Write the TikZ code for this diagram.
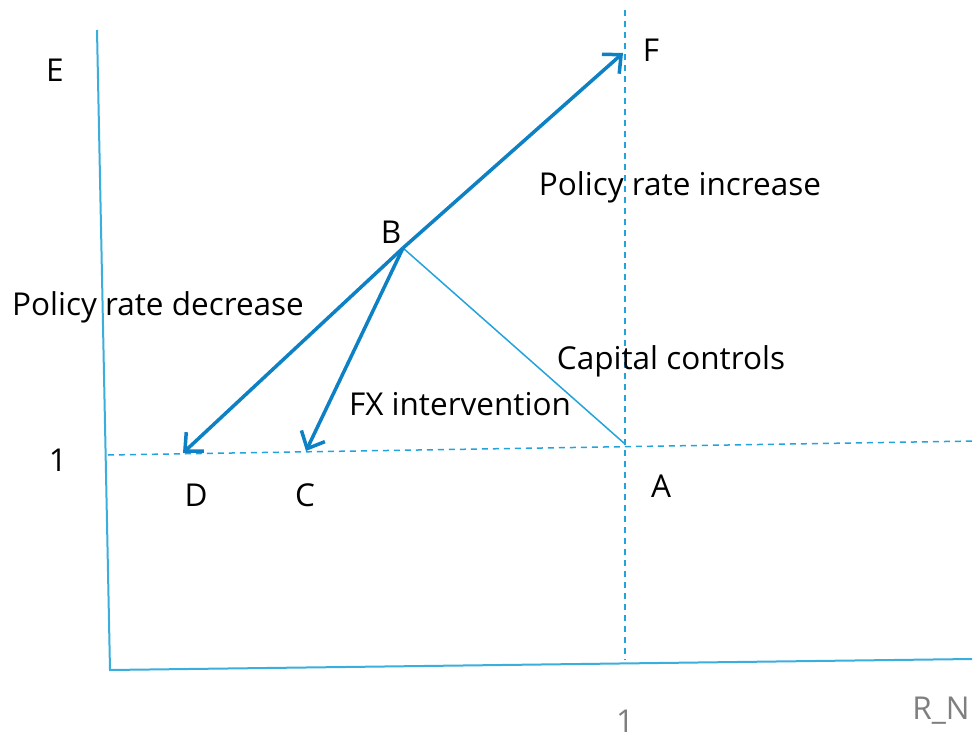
\documentclass[tikz,border=0pt]{standalone}
\usepackage{fontspec}
\setmainfont{Open Sans}
\usetikzlibrary{arrows.meta}
\definecolor{arrowblue}{HTML}{0E80C4}
\definecolor{lineblue}{HTML}{23A3DC}
\definecolor{axisblue}{HTML}{3AAEDD}
\definecolor{labelgray}{HTML}{7F7F7F}
\tikzset{
  lbl/.style={font=\fontsize{31.5}{35}\selectfont, inner sep=0pt, text=black},
  glbl/.style={lbl, text=labelgray},
  axisline/.style={draw=axisblue, line width=2pt},
  guide/.style={draw=lineblue, line width=1.5pt, dash pattern=on 6pt off 5pt},
  thinline/.style={draw=lineblue, line width=1.5pt},
  move/.style={draw=arrowblue, line width=3.5pt, -{Straight Barb[length=14pt,width=26pt,line width=3.5pt]}}
}
\begin{document}
\begin{tikzpicture}[x=1pt,y=-1pt]
\useasboundingbox (0,0) rectangle (980,738);
% points
\coordinate (ytop) at (97,30);
\coordinate (orig) at (110,670);
\coordinate (xend) at (972,659);
\coordinate (vtop) at (625,10);
\coordinate (vbot) at (625,660);
\coordinate (hleft) at (108,455);
\coordinate (hright) at (976,441);
\coordinate (pB) at (403,248);
\coordinate (pF) at (623,53);
\coordinate (pD) at (183,453);
\coordinate (pC) at (306,451);
\coordinate (pA) at (625,444);
% axes
\draw[axisline] (ytop) -- (orig) -- (xend);
% guides
\draw[guide] (vtop) -- (vbot);
\draw[guide] (hleft) -- (hright);
% capital controls line
\draw[thinline] (pB) -- (pA);
% arrows
\draw[move] (pB) -- (pF);
\draw[move] (pB) -- (pD);
\draw[move] (pB) -- (pC);
% labels
\node[lbl] (lE) at (55,70) {E};
\node[lbl] (lF) at (651,50) {F};
\node[lbl] (lB) at (391,232) {B};
\node[lbl] (lA) at (661,486) {A};
\node[lbl] (lD) at (196,495) {D};
\node[lbl] (lC) at (305,495) {C};
\node[lbl] (l1y) at (58,460) {1};
\node[lbl] (linc) at (680,187) {Policy rate increase};
\node[lbl] (ldec) at (158,307) {Policy rate decrease};
\node[lbl] (lcap) at (671,361) {Capital controls};
\node[lbl] (lfx) at (460,404) {FX intervention};
\node[glbl] (l1x) at (625,721) {1};
\node[glbl] (lRN) at (941,711) {R\_N};
\end{tikzpicture}
\end{document}
